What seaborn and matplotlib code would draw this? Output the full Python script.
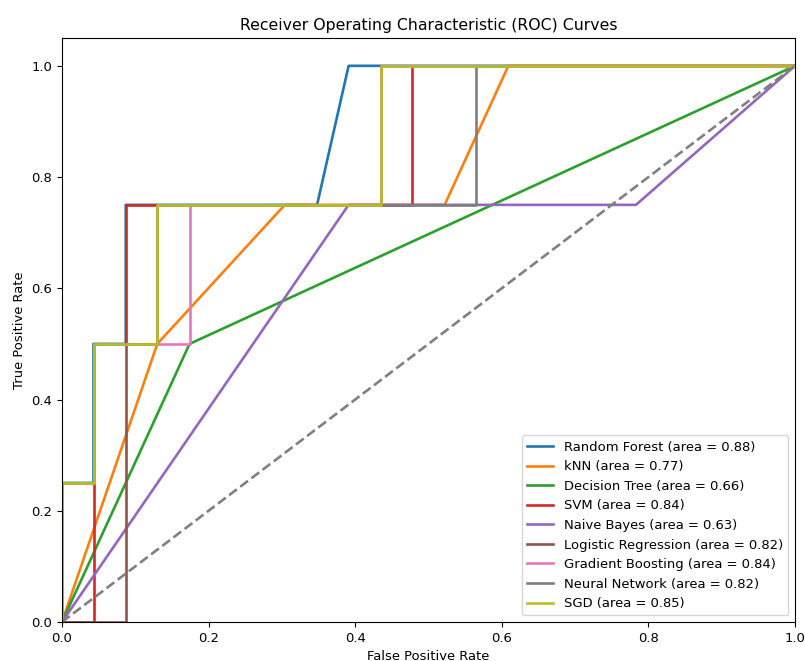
import matplotlib
matplotlib.use("Agg")
import matplotlib.pyplot as plt
import seaborn as sns
import pandas as pd

# ROC points (fpr steps of 1/23, tpr steps of 0.25)
models = ["Random Forest", "kNN", "Decision Tree", "SVM", "Naive Bayes",
          "Logistic Regression", "Gradient Boosting", "Neural Network", "SGD"]
aucs = [0.88, 0.77, 0.66, 0.84, 0.63, 0.82, 0.84, 0.82, 0.85]

fpr_rf = [0, 0, 0.043, 0.043, 0.087, 0.087, 0.348, 0.391, 1]
tpr_rf = [0, 0.25, 0.25, 0.5, 0.5, 0.75, 0.75, 1, 1]
fpr_knn = [0, 0.130, 0.304, 0.522, 0.609, 1]
tpr_knn = [0, 0.5, 0.75, 0.75, 1, 1]
fpr_dt = [0, 0.174, 1]
tpr_dt = [0, 0.5, 1]
fpr_svm = [0, 0.043, 0.043, 0.087, 0.087, 0.478, 0.478, 1]
tpr_svm = [0, 0, 0.5, 0.5, 0.75, 0.75, 1, 1]
fpr_nb = [0, 0.391, 0.783, 1]
tpr_nb = [0, 0.75, 0.75, 1]
fpr_lr = [0, 0.087, 0.087, 0.130, 0.130, 0.435, 0.435, 1]
tpr_lr = [0, 0, 0.5, 0.5, 0.75, 0.75, 1, 1]
fpr_gb = [0, 0, 0.043, 0.043, 0.174, 0.174, 0.435, 0.435, 1]
tpr_gb = [0, 0.25, 0.25, 0.5, 0.5, 0.75, 0.75, 1, 1]
fpr_nn = [0, 0, 0.043, 0.043, 0.130, 0.130, 0.565, 0.565, 1]
tpr_nn = [0, 0.25, 0.25, 0.5, 0.5, 0.75, 0.75, 1, 1]
fpr_sgd = [0, 0, 0.043, 0.043, 0.130, 0.130, 0.435, 0.435, 1]
tpr_sgd = [0, 0.25, 0.25, 0.5, 0.5, 0.75, 0.75, 1, 1]

curves = [(fpr_rf, tpr_rf), (fpr_knn, tpr_knn), (fpr_dt, tpr_dt),
          (fpr_svm, tpr_svm), (fpr_nb, tpr_nb), (fpr_lr, tpr_lr),
          (fpr_gb, tpr_gb), (fpr_nn, tpr_nn), (fpr_sgd, tpr_sgd)]

colors = sns.color_palette("tab10", len(models))

plt.rcParams["font.size"] = 9.45

fig = plt.figure(figsize=(8.05, 6.61), dpi=100)
ax = fig.add_axes([0.077, 0.059, 0.9106, 0.8835])

for (fpr, tpr), name, auc, c in zip(curves, models, aucs, colors):
    df = pd.DataFrame({"fpr": fpr, "tpr": tpr})
    sns.lineplot(data=df, x="fpr", y="tpr", sort=False, estimator=None,
                 color=c, lw=1.9, label=f"{name} (area = {auc:.2f})", ax=ax)

sns.lineplot(x=[0, 1], y=[0, 1], color="gray", lw=1.9, linestyle="--", ax=ax)

ax.set_xlim(0.0, 1.0)
ax.set_ylim(0.0, 1.05)
ax.set_xlabel("False Positive Rate")
ax.set_ylabel("True Positive Rate")
ax.set_title("Receiver Operating Characteristic (ROC) Curves")
ax.legend(loc="lower right")

fig.savefig("out.png", dpi=100)
plt.close()
